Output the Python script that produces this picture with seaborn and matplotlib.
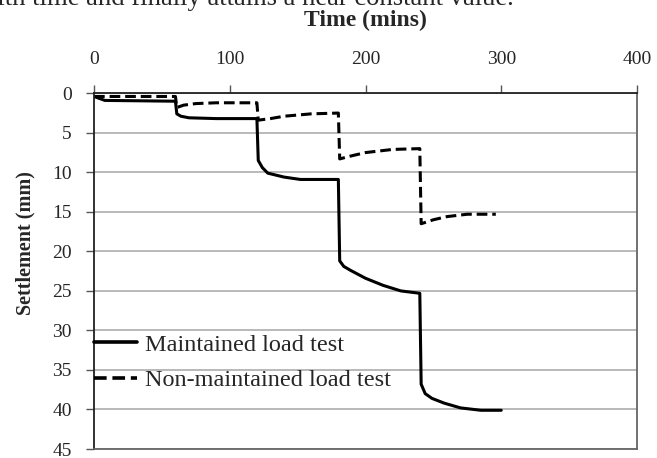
import matplotlib
matplotlib.use("Agg")
import matplotlib.pyplot as plt
import seaborn as sns
import pandas as pd

# Data
maint_time = [0, 8, 60, 61, 64, 70, 90, 120, 121, 124, 128, 140, 152, 165, 180, 181, 184, 189, 200, 213, 226, 240, 241, 244, 249, 258, 270, 285, 300]
maint_settle = [0.4, 0.9, 1.0, 2.6, 2.9, 3.1, 3.2, 3.2, 8.5, 9.4, 10.1, 10.6, 10.9, 10.9, 10.9, 21.2, 21.9, 22.4, 23.4, 24.3, 25.0, 25.3, 36.8, 38.0, 38.6, 39.2, 39.8, 40.1, 40.1]

nonmaint_time = [0, 60, 61, 66, 75, 90, 120, 121, 130, 140, 160, 180, 181, 190, 200, 220, 240, 241, 250, 260, 275, 296]
nonmaint_settle = [0.4, 0.4, 1.8, 1.5, 1.3, 1.2, 1.2, 3.4, 3.2, 2.9, 2.6, 2.5, 8.3, 7.9, 7.5, 7.1, 7.0, 16.5, 16.0, 15.6, 15.3, 15.3]

series_names = ["Maintained load test", "Non-maintained load test"]
x_ticks = [0, 100, 200, 300, 400]
y_ticks = [0, 5, 10, 15, 20, 25, 30, 35, 40, 45]

df = pd.concat([
    pd.DataFrame({"Time": maint_time, "Settlement": maint_settle, "Test": series_names[0]}),
    pd.DataFrame({"Time": nonmaint_time, "Settlement": nonmaint_settle, "Test": series_names[1]}),
], ignore_index=True)

sns.set_style("white")
plt.rcParams["font.family"] = ["Liberation Serif", "DejaVu Serif"]

fig = plt.figure(figsize=(6.57, 4.58), dpi=100)
ax = fig.add_axes([94 / 657, 1 - 449 / 458, (637 - 94) / 657, (449 - 93.3) / 458])

sns.lineplot(data=df, x="Time", y="Settlement", style="Test", color="black",
             dashes={series_names[0]: "", series_names[1]: (3.5, 1.6)},
             linewidth=2.2, estimator=None, sort=False, ax=ax)

ax.set_xlim(0, 400)
ax.set_ylim(45, 0)
ax.set_xticks(x_ticks)
ax.set_yticks(y_ticks)
ax.xaxis.tick_top()
ax.tick_params(axis="x", which="both", top=True, bottom=False, direction="out",
               length=6, width=1, color="#555555", pad=12, labelsize=14)
ax.tick_params(axis="y", which="both", left=True, direction="out",
               length=6, width=1, color="#555555", pad=10, labelsize=14)
ax.yaxis.grid(True, color="#a6a6a6", linewidth=1.1)
ax.xaxis.grid(False)
for side in ["top", "left"]:
    ax.spines[side].set_color("#222222")
    ax.spines[side].set_linewidth(1.3)
for side in ["right", "bottom"]:
    ax.spines[side].set_color("#666666")
    ax.spines[side].set_linewidth(1.3)

ax.xaxis.set_label_position("top")
ax.set_xlabel("Time (mins)", fontsize=17, fontweight="bold")
ax.xaxis.label.set_verticalalignment("center")
ax.xaxis.set_label_coords(0.5, (449 - 20.5) / 355.7)

ax.set_ylabel("Settlement (mm)", fontsize=14.5, fontweight="bold")
ax.yaxis.label.set_verticalalignment("center")
ax.yaxis.set_label_coords((25 - 94) / 543, (449 - 243) / 355.7)

leg = ax.legend(loc="upper left", bbox_to_anchor=(0.0, 0.324), frameon=False,
                fontsize=17.5, handlelength=1.77, handletextpad=0.33,
                borderaxespad=0, borderpad=0, labelspacing=0.55)
for h in leg.get_lines():
    h.set_linewidth(2.6)

fig.text(514 / 657, 1 - 5 / 458, "with time and finally attains a near constant value.",
         ha="right", va="baseline", fontsize=19.2)

fig.savefig("out.png", dpi=100)
